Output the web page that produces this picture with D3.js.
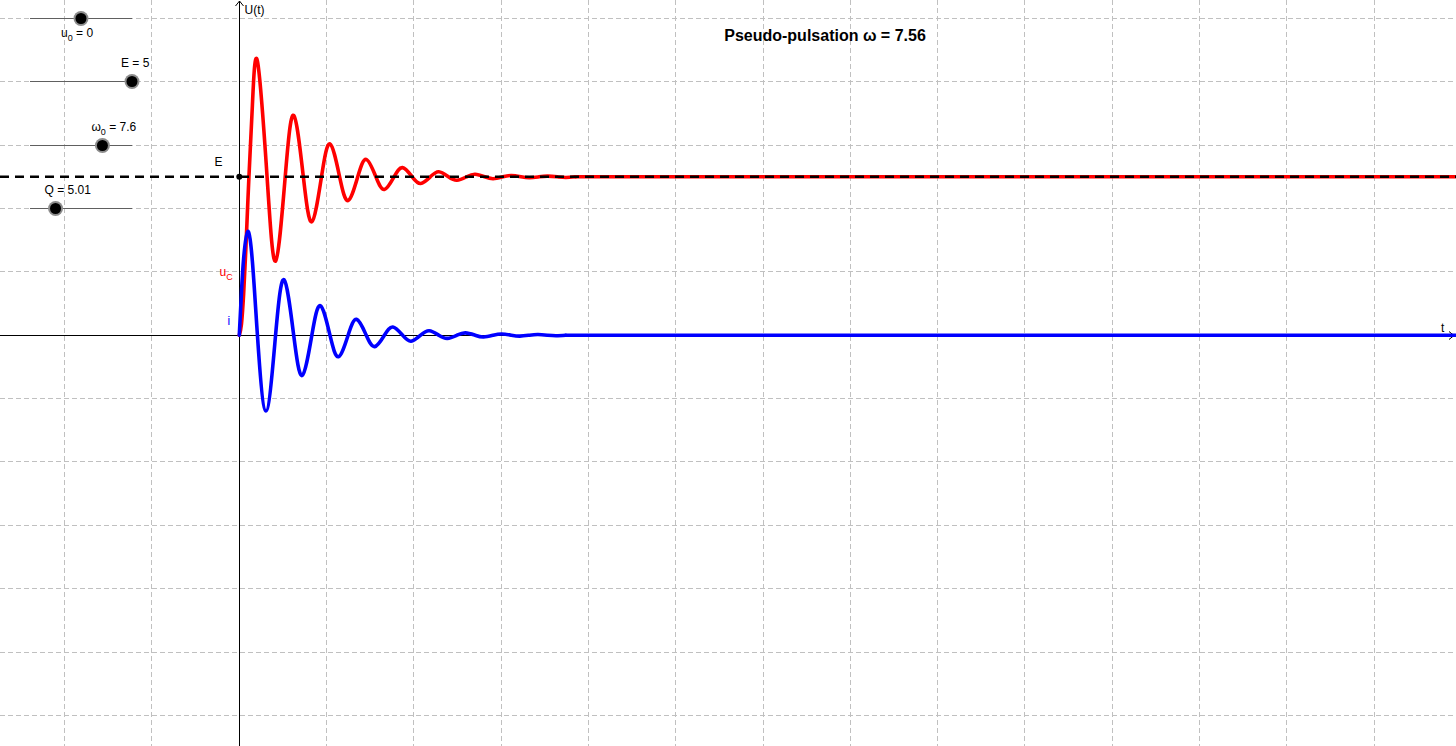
<!DOCTYPE html>
<html><head><meta charset="utf-8">
<script src="https://cdn.jsdelivr.net/npm/d3@7"></script>
<style>html,body{margin:0;padding:0;background:#fff;overflow:hidden}svg{display:block}</style>
</head><body><svg id="c" width="1456" height="746"></svg>
<script>
// ---------- data ----------
const gridXTicks = [-4,-2,2,4,6,8,10,12,14,16,18,20,22,24,26];
const gridYTicks = [-12,-10,-8,-6,-4,-2,2,4,6,8,10];

const E = 5;
const titleText = "Pseudo-pulsation ω = 7.56";

// sliders
const sliderNames = ["u","E","ω","Q"];
const sliderSubs  = ["0","","0",""];
const sliderValues = [0, 5, 7.6, 5.01];
const sliderValueText = ["0","5","7.6","5.01"];
const sliderMins = [-5, 0, 0.5, 0];
const sliderMaxs = [5, 5, 10.5, 20];
const sliderRows = [10, 8, 6, 4]; // y-values of the grid rows the sliders sit on

// capacitor voltage uC(t): start, extrema and crossings of E
const ucT = [0,0.05,0.1,0.15,0.2209,0.3,0.4155,0.6364,0.831,1.0519,1.2465,1.4674,1.662,1.8829,2.0775,2.2984,2.493,2.7139,2.9085,3.1294,3.324,3.5449,3.7395,3.9604,4.155,4.3759,4.5705,4.7914,4.986,5.2069,5.4015,5.6224,5.817,6.0379,6.2325,6.4534,6.648,6.8689,7.0635,7.2844,7.479,7.6999];
const ucV = [0,0.35,1.31,2.71,5,7.25,8.65,5,2.34,5,6.94,5,3.58,5,6.04,5,4.25,5,5.55,5,4.60,5,5.29,5,4.79,5,5.16,5,4.89,5,5.08,5,4.94,5,5.04,5,4.97,5,5.02,5,4.98,5];
const ucTailT = [7.6999, 27.9];
const ucTailV = [5, 5];

// current i(t): start, extrema and zeros
const iT = [0,0.05,0.1,0.1945,0.3,0.4155,0.61,0.831,1.0255,1.2465,1.441,1.662,1.8565,2.0775,2.272,2.493,2.6875,2.9085,3.103,3.324,3.5185,3.7395,3.934,4.155,4.3495,4.5705,4.765,4.986,5.1805,5.4015,5.596,5.817,6.0115,6.2325,6.427,6.648,6.8425,7.0635,7.258,7.479];
const iV = [0,1.36,2.43,3.28,2.33,0,-2.39,0,1.75,0,-1.27,0,0.93,0,-0.68,0,0.50,0,-0.36,0,0.26,0,-0.19,0,0.14,0,-0.10,0,0.075,0,-0.055,0,0.04,0,-0.03,0,0.02,0,-0.015,0];
const iTailT = [7.479, 27.9];
const iTailV = [0, 0];

// ---------- drawing ----------
const W = 1456, H = 746;
const x = d3.scaleLinear().domain([-5.482, 27.874]).range([0, W]);
const y = d3.scaleLinear().domain([-12.967, 10.581]).range([H, 0]);
const crisp = v => Math.floor(v) + 0.5;
const FONT = "'Liberation Sans', Arial, sans-serif";

const svg = d3.select("#c");

// grid
const grid = svg.append("g").attr("stroke", "#c0c0c0").attr("stroke-width", 1).attr("stroke-dasharray", "5,3");
grid.selectAll("line.gx").data(gridXTicks).join("line")
  .attr("x1", d => crisp(x(d))).attr("x2", d => crisp(x(d)))
  .attr("y1", 0).attr("y2", H);
grid.selectAll("line.gy").data(gridYTicks).join("line")
  .attr("y1", d => crisp(y(d))).attr("y2", d => crisp(y(d)))
  .attr("x1", 0).attr("x2", W);

// sliders
const sx0 = 30, sx1 = 132;
const sliders = svg.append("g");
sliderValues.forEach((v, k) => {
  const sc = d3.scaleLinear().domain([sliderMins[k], sliderMaxs[k]]).range([sx0, sx1]);
  const ry = crisp(y(sliderRows[k]));
  sliders.append("line").attr("x1", sx0).attr("x2", sx1).attr("y1", ry).attr("y2", ry)
    .attr("stroke", "#606060").attr("stroke-width", 1);
  const kx = sc(v);
  sliders.append("circle").attr("cx", kx).attr("cy", ry).attr("r", 7.5).attr("fill", "#8c8c8c");
  sliders.append("circle").attr("cx", kx).attr("cy", ry).attr("r", 5.5).attr("fill", "#000");
  const below = k === 0;
  const t = sliders.append("text")
    .attr("x", kx + (below ? -20 : -11))
    .attr("y", ry + (below ? 18 : -15))
    .attr("font-family", FONT).attr("font-size", 12).attr("fill", "#000");
  t.append("tspan").text(sliderNames[k]);
  if (sliderSubs[k]) {
    t.append("tspan").attr("font-size", 9).attr("dy", 4).text(sliderSubs[k]);
    t.append("tspan").attr("dy", -4).text(" = " + sliderValueText[k]);
  } else {
    t.append("tspan").text(" = " + sliderValueText[k]);
  }
});

// axes
const ax = crisp(x(0)), ay = crisp(y(0));
const axes = svg.append("g").attr("stroke", "#000").attr("stroke-width", 1).attr("fill", "none");
axes.append("line").attr("x1", 0).attr("x2", W - 2).attr("y1", ay).attr("y2", ay);
axes.append("line").attr("x1", ax).attr("x2", ax).attr("y1", 1).attr("y2", H);
axes.append("path").attr("d", `M${W-7},${ay-4}L${W-2},${ay}L${W-7},${ay+4}`);
axes.append("path").attr("d", `M${ax-4},${6}L${ax},${1}L${ax+4},${6}`);

// curves
const lineNat = d3.line().x(d => x(d[0])).y(d => y(d[1])).curve(d3.curveNatural);
const lineLin = d3.line().x(d => x(d[0])).y(d => y(d[1]));
const ucPts = ucT.map((t, k) => [t, ucV[k]]);
const ucTail = ucTailT.map((t, k) => [t, ucTailV[k]]);
const iPts = iT.map((t, k) => [t, iV[k]]);
const iTail = iTailT.map((t, k) => [t, iTailV[k]]);

const curves = svg.append("g").attr("fill", "none").attr("stroke-width", 3.6)
  .attr("stroke-linejoin", "round").attr("stroke-linecap", "round");
curves.append("path").attr("d", lineNat(ucPts)).attr("stroke", "#ff0000");
curves.append("path").attr("d", lineLin(ucTail)).attr("stroke", "#ff0000");
curves.append("path").attr("d", lineNat(iPts)).attr("stroke", "#0000ff");
curves.append("path").attr("d", lineLin(iTail)).attr("stroke", "#0000ff");

// E dashed line + point
svg.append("line").attr("x1", 0).attr("x2", W).attr("y1", y(E)).attr("y2", y(E))
  .attr("stroke", "#000").attr("stroke-width", 2.6).attr("stroke-dasharray", "9,6");
svg.append("circle").attr("cx", x(0)).attr("cy", y(E)).attr("r", 3).attr("fill", "#000");

// labels
const lab = svg.append("g").attr("font-family", FONT).attr("font-size", 12);
lab.append("text").attr("x", ax + 5).attr("y", 14).attr("fill", "#000").text("U(t)");
lab.append("text").attr("x", W - 15).attr("y", ay - 4).attr("fill", "#000").text("t");
lab.append("text").attr("x", ax - 25).attr("y", y(E) - 11).attr("fill", "#000").text("E");
const ucl = lab.append("text").attr("x", ax - 20).attr("y", 276).attr("fill", "#ff0000");
ucl.append("tspan").text("u");
ucl.append("tspan").attr("font-size", 9).attr("dy", 4).text("C");
lab.append("text").attr("x", ax - 12).attr("y", 325).attr("fill", "#0000ff").text("i");

// title
svg.append("text").attr("x", 825).attr("y", 41).attr("text-anchor", "middle")
  .attr("font-family", FONT).attr("font-size", 16).attr("font-weight", "bold")
  .attr("fill", "#000").text(titleText);
</script>
</body></html>
